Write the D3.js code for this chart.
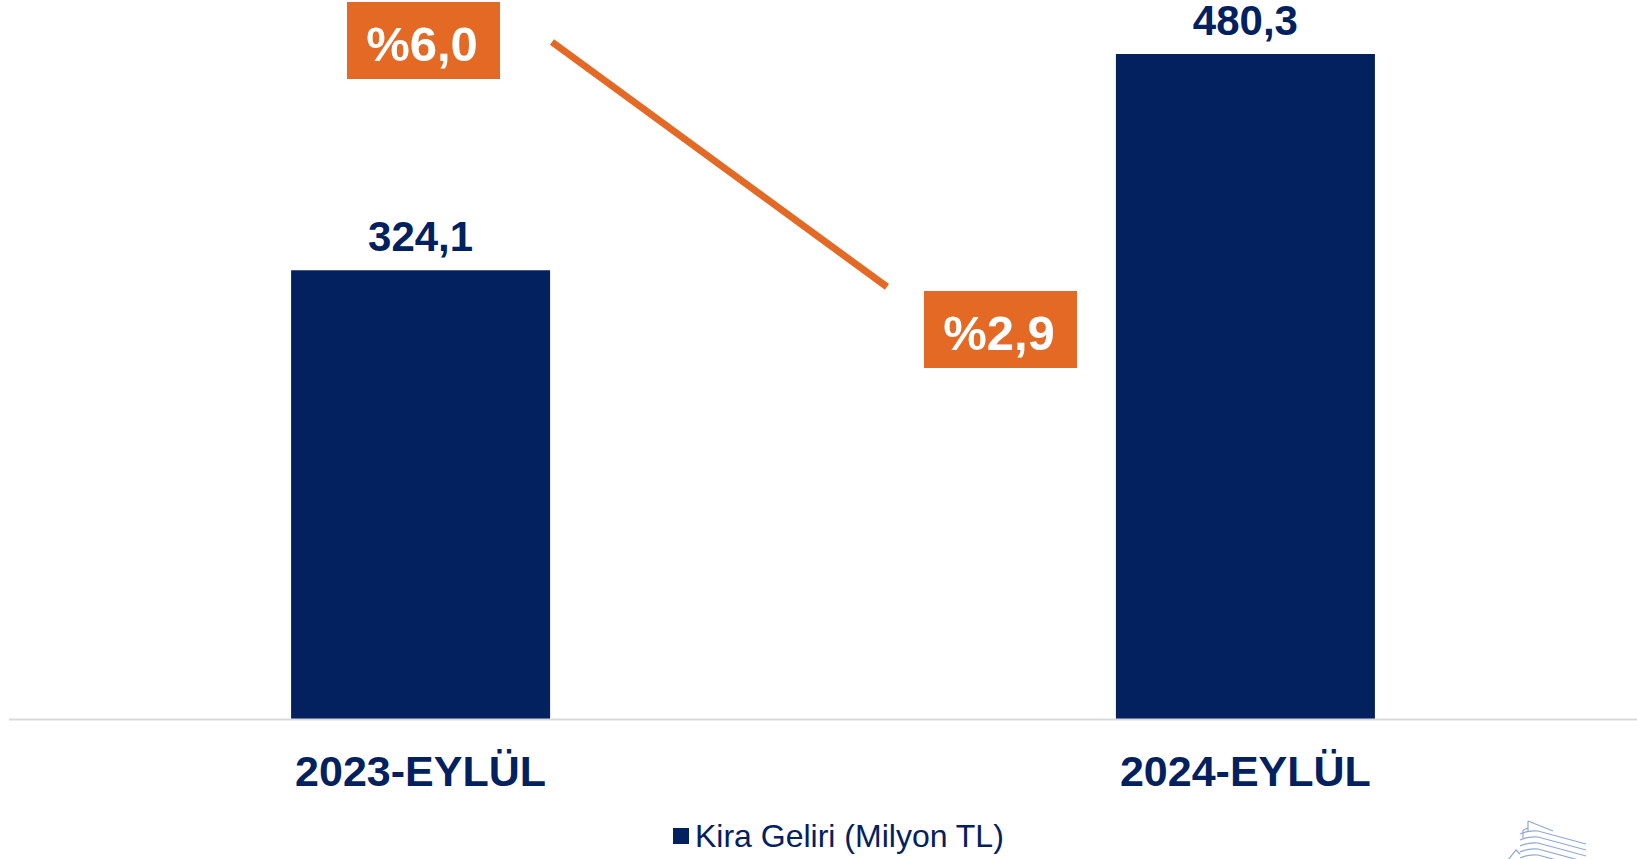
<!DOCTYPE html>
<html>
<head>
<meta charset="utf-8">
<script src="https://cdn.jsdelivr.net/npm/d3@7"></script>
<style>
  html, body { margin: 0; padding: 0; background: #fff; }
  body { font-family: "Liberation Sans", Arial, sans-serif; }
</style>
</head>
<body>
<script>
document.addEventListener('DOMContentLoaded', () => {
  doBarGraph();
})

const data = [
  {period: '2023-EYLÜL', rent: 324.1, rate: 6.0},
  {period: '2024-EYLÜL', rent: 480.3, rate: 2.9}
];

const doBarGraph = () => {
  const dimension = {width: 1637, height: 859};
  const navy = '#03205f';
  const orange = '#e36925';

  const svg = d3.select('body')
    .append('svg')
    .attr('width', dimension.width)
    .attr('height', dimension.height)

  const xScale = d3.scaleBand()
    .domain(data.map(d => d.period))
    .range([9, 1657])
    .paddingInner(0.686)
    .paddingOuter(0.342)

  const yScale = d3.scaleLinear()
    .domain([0, 480.3])
    .range([719, 54])

  // secondary scales for the growth line
  const xLine = d3.scalePoint()
    .domain(data.map(d => d.period))
    .range([552, 887])

  const yRate = d3.scaleLinear()
    .domain([0, 6.0])
    .range([516, 42])

  svg.append('g')
    .attr('id', 'bars')
    .attr('fill', navy)
    .selectAll('rect')
    .data(data)
    .enter()
    .append('rect')
    .attr('x', d => xScale(d.period))
    .attr('y', d => yScale(d.rent))
    .attr('width', xScale.bandwidth())
    .attr('height', d => yScale(0) - yScale(d.rent))

  svg.append('g')
    .selectAll('text')
    .data(data)
    .enter()
    .append('text')
    .attr('x', d => xScale(d.period) + xScale.bandwidth() / 2)
    .attr('y', d => yScale(d.rent) - 19)
    .attr('text-anchor', 'middle')
    .attr('fill', navy)
    .style('font-weight', 'bold')
    .style('font-size', '42px')
    .text(d => d3.format('.1f')(d.rent).replace('.', ','))

  // x axis
  const xAxis = svg.append('g')
    .attr('transform', `translate(0, ${yScale(0)})`)
    .call(d3.axisBottom(xScale).tickSize(0).tickPadding(36))

  xAxis.select('.domain')
    .attr('stroke', '#d9d9d9')
    .attr('stroke-width', 2)
    .attr('d', `M9,0.5H1637`)

  xAxis.selectAll('text')
    .attr('fill', navy)
    .style('font-family', '"Liberation Sans", Arial, sans-serif')
    .style('font-weight', 'bold')
    .style('font-size', '43px')

  // growth line
  svg.append('path')
    .datum(data)
    .attr('fill', 'none')
    .attr('stroke', orange)
    .attr('stroke-width', 7)
    .attr('d', d3.line().x(d => xLine(d.period)).y(d => yRate(d.rate)))

  const boxes = [
    {d: data[0], x: 347, y: 2},
    {d: data[1], x: 924, y: 291}
  ];

  const lab = svg.append('g')
    .selectAll('g')
    .data(boxes)
    .enter()
    .append('g')
    .attr('transform', b => `translate(${b.x}, ${b.y})`)

  lab.append('rect')
    .attr('width', 153)
    .attr('height', 77)
    .attr('fill', orange)

  lab.append('text')
    .attr('x', 75)
    .attr('y', 59)
    .attr('text-anchor', 'middle')
    .attr('fill', '#fff')
    .style('font-weight', 'bold')
    .style('font-size', '49px')
    .text(b => '%' + d3.format('.1f')(b.d.rate).replace('.', ','))

  // legend
  const legend = svg.append('g')
    .attr('transform', 'translate(673, 828)')

  legend.append('rect')
    .attr('width', 16)
    .attr('height', 16)
    .attr('fill', navy)

  legend.append('text')
    .attr('x', 22)
    .attr('y', 19)
    .attr('fill', navy)
    .style('font-size', '32px')
    .text('Kira Geliri (Milyon TL)')

  // faint logo in the corner
  const logo = svg.append('g')
    .attr('transform', 'translate(1508, 820)')
    .attr('fill', 'none')
    .attr('stroke', '#8fa8d6')
    .attr('stroke-width', 1.2)

  logo.append('path').attr('d', 'M20,1 V12 M20,1 L45,11 M15,10 V18 M15,10 L20,8')
  const floors = [14, 20, 26, 32, 38];
  logo.selectAll('.fl')
    .data(floors)
    .enter()
    .append('path')
    .attr('d', d => `M12,${d} Q20,${d - 4} 30,${d - 3} L78,${d + 10}`)
  logo.append('path').attr('d', 'M0,40 L8,30 L12,34')
}
</script>
</body>
</html>
